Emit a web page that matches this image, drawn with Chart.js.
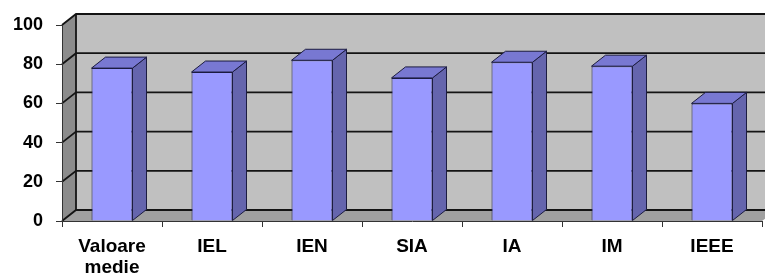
<!DOCTYPE html>
<html>
<head>
<meta charset="utf-8">
<script src="https://cdn.jsdelivr.net/npm/chart.js@4.4.1/dist/chart.umd.min.js"></script>
<style>
  html, body { margin: 0; padding: 0; background: #fff; }
  #wrap { width: 765px; height: 276px; position: relative; }
</style>
</head>
<body>
<div id="wrap"><canvas id="barChart"></canvas></div>
<script>
// ===== Dữ liệu =====
const categories = [["Valoare", "medie"], "IEL", "IEN", "SIA", "IA", "IM", "IEEE"];
const values = [78, 76, 82, 73, 81, 79, 60];
const yTicks = [0, 20, 40, 60, 80, 100];

// độ sâu giả 3D
const DX = 14;
const DY = -11;

const fontY = { family: "'Liberation Sans', Arial, sans-serif", size: 18, weight: "bold" };
const fontX = { family: "'Liberation Sans', Arial, sans-serif", size: 19, weight: "bold", lineHeight: 1.1 };

// vẽ tường, sàn và lưới phía sau
const wallsPlugin = {
  id: "walls",
  beforeDraw(chart) {
    const { ctx, chartArea: a, scales } = chart;
    const y = scales.y;
    ctx.save();
    // tường sau
    ctx.fillStyle = "#c0c0c0";
    ctx.fillRect(a.left + DX, a.top + DY, a.right - a.left, a.bottom - a.top);
    // tường trái
    ctx.fillStyle = "#8c8c8c";
    ctx.beginPath();
    ctx.moveTo(a.left, a.top);
    ctx.lineTo(a.left + DX, a.top + DY);
    ctx.lineTo(a.left + DX, a.bottom + DY);
    ctx.lineTo(a.left, a.bottom);
    ctx.closePath();
    ctx.fill();
    // sàn
    ctx.fillStyle = "#a0a0a0";
    ctx.beginPath();
    ctx.moveTo(a.left, a.bottom);
    ctx.lineTo(a.left + DX, a.bottom + DY);
    ctx.lineTo(a.right + DX, a.bottom + DY);
    ctx.lineTo(a.right, a.bottom);
    ctx.closePath();
    ctx.fill();
    // lưới
    ctx.strokeStyle = "#141414";
    ctx.lineWidth = 1.8;
    yTicks.forEach((v) => {
      const py = y.getPixelForValue(v);
      ctx.beginPath();
      ctx.moveTo(a.left, py);
      ctx.lineTo(a.left + DX, py + DY);
      ctx.lineTo(a.right + DX, py + DY);
      ctx.stroke();
    });
    ctx.beginPath();
    ctx.moveTo(a.left + DX, a.top + DY);
    ctx.lineTo(a.left + DX, a.bottom + DY);
    ctx.stroke();
    ctx.restore();
  },
  afterDatasetsDraw(chart) {
    const { ctx } = chart;
    const meta = chart.getDatasetMeta(0);
    ctx.save();
    ctx.strokeStyle = "#1c1c40";
    ctx.lineWidth = 1;
    meta.data.forEach((bar) => {
      const l = bar.x - bar.width / 2;
      const r = bar.x + bar.width / 2;
      const t = bar.y;
      const b = bar.base;
      // mặt bên
      ctx.fillStyle = "#6565ad";
      ctx.beginPath();
      ctx.moveTo(r, t);
      ctx.lineTo(r + DX, t + DY);
      ctx.lineTo(r + DX, b + DY);
      ctx.lineTo(r, b);
      ctx.closePath();
      ctx.fill();
      ctx.stroke();
      // mặt trên
      ctx.fillStyle = "#7878d2";
      ctx.beginPath();
      ctx.moveTo(l, t);
      ctx.lineTo(l + DX, t + DY);
      ctx.lineTo(r + DX, t + DY);
      ctx.lineTo(r, t);
      ctx.closePath();
      ctx.fill();
      ctx.stroke();
    });
    ctx.restore();
  },
};

const ctxBar = document.getElementById("barChart");
new Chart(ctxBar, {
  type: "bar",
  data: {
    labels: categories,
    datasets: [
      {
        data: values,
        backgroundColor: "#9999ff",
        borderColor: "#1c1c40",
        borderWidth: 1,
        categoryPercentage: 1,
        barPercentage: 0.41,
      },
    ],
  },
  options: {
    responsive: true,
    maintainAspectRatio: false,
    animation: false,
    layout: { padding: { top: 25, right: 3, left: 0, bottom: 0 } },
    plugins: { legend: { display: false }, tooltip: { enabled: false } },
    scales: {
      x: {
        grid: { offset: true, drawOnChartArea: false, tickLength: 6, color: "#333" },
        border: { display: true, color: "#333", width: 1 },
        ticks: { color: "#000", font: fontX, padding: 9, maxRotation: 0, autoSkip: false },
        afterFit(scale) { scale.height = 55; },
      },
      y: {
        min: 0,
        max: 100,
        grid: { drawOnChartArea: false, tickLength: 6, color: "#333" },
        border: { display: true, color: "#333", width: 1 },
        ticks: { stepSize: 20, color: "#000", font: fontY, padding: 13 },
        afterFit(scale) { scale.width = 62; },
      },
    },
  },
  plugins: [wallsPlugin],
});
</script>
</body>
</html>
